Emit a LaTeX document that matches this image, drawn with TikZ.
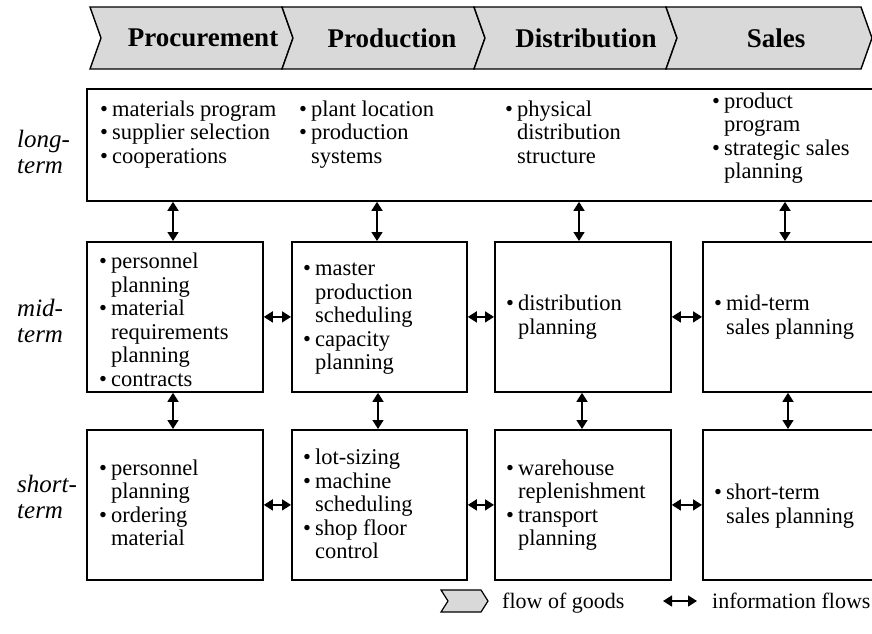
\documentclass[tikz,border=0pt]{standalone}
\usepackage{fontspec}
\setmainfont{Liberation Serif}
\usetikzlibrary{arrows.meta}
\definecolor{stagegray}{RGB}{217,217,217}

% bullet list set as a two-column tabular: bullet | text (continuation lines leave the bullet empty)
\newenvironment{blist}{\begin{tabular}{@{}l@{\hspace{4pt}}l@{}}}{\end{tabular}}
\newcommand\bi{\textbullet&}

\begin{document}
\begin{tikzpicture}[x=1pt,y=-1pt,
  stage/.style={fill=stagegray,draw=black,line width=1.4pt,line join=miter},
  stagetext/.style={inner sep=0pt,font=\fontsize{27}{30}\selectfont\bfseries},
  planbox/.style={draw=black,line width=1.8pt,inner sep=0pt,anchor=north west},
  items/.style={inner sep=0pt,anchor=west,font=\fontsize{22.5}{23.5}\selectfont},
  horizon/.style={inner sep=0pt,anchor=west,align=left,font=\fontsize{25}{25.5}\selectfont\itshape},
  legendtext/.style={inner sep=0pt,anchor=base west,font=\fontsize{22}{23.5}\selectfont},
  info/.style={line width=1.5pt,{Triangle[width=11pt,length=9pt]}-{Triangle[width=11pt,length=9pt]}},
]
\useasboundingbox (0,0) rectangle (872,633);
\fill[white] (0,0) rectangle (872,633);
\clip (0,0) rectangle (872,633);

% ---- supply chain stages (flow of goods) ----
\draw[stage] (90,7) -- (282,7) -- (293,38) -- (282,69) -- (90,69) -- (101,38) -- cycle;
\draw[stage] (282,7) -- (474,7) -- (485,38) -- (474,69) -- (282,69) -- (293,38) -- cycle;
\draw[stage] (474,7) -- (666,7) -- (677,38) -- (666,69) -- (474,69) -- (485,38) -- cycle;
\draw[stage] (666,7) -- (861,7) -- (872,38) -- (861,69) -- (666,69) -- (677,38) -- cycle;
\node[stagetext] (sproc) at (203,38) {Procurement};
\node[stagetext] (sprod) at (392,38) {Production};
\node[stagetext] (sdist) at (586,38) {Distribution};
\node[stagetext] (ssale) at (776,38) {Sales};

% ---- planning horizons ----
\node[horizon] (hlong)  at (17,152) {long-\\term};
\node[horizon] (hmid)   at (17,321) {mid-\\term};
\node[horizon] (hshort) at (17,497) {short-\\term};

% ---- long-term level ----
\node[planbox,minimum width=800pt,minimum height=112pt] (lt) at (86,88) {};
\node[items] (l1) at (100,135) {\begin{blist}\bi materials program\\ \bi supplier selection\\ \bi cooperations\end{blist}};
\node[items] (l2) at (299,135) {\begin{blist}\bi plant location\\ \bi production\\ & systems\end{blist}};
\node[items] (l3) at (505,135) {\begin{blist}\bi physical\\ & distribution\\ & structure\end{blist}};
\node[items] (l4) at (712,139) {\begin{blist}\bi product\\ & program\\ \bi strategic sales\\ & planning\end{blist}};

% ---- mid-term level ----
\node[planbox,minimum width=176pt,minimum height=150pt] (m1) at (86,241) {};
\node[planbox,minimum width=175pt,minimum height=150pt] (m2) at (291,241) {};
\node[planbox,minimum width=176pt,minimum height=150pt] (m3) at (494,241) {};
\node[planbox,minimum width=176pt,minimum height=150pt] (m4) at (702,241) {};
\node[items] (mt1) at (99,323) {\begin{blist}\bi personnel\\ & planning\\ \bi material\\ & requirements\\ & planning\\ \bi contracts\end{blist}};
\node[items] (mt2) at (303,318) {\begin{blist}\bi master\\ & production\\ & scheduling\\ \bi capacity\\ & planning\end{blist}};
\node[items] (mt3) at (506,318) {\begin{blist}\bi distribution\\ & planning\end{blist}};
\node[items] (mt4) at (714,318) {\begin{blist}\bi mid-term\\ & sales planning\end{blist}};

% ---- short-term level ----
\node[planbox,minimum width=176pt,minimum height=150pt] (s1) at (86,429) {};
\node[planbox,minimum width=175pt,minimum height=150pt] (s2) at (291,429) {};
\node[planbox,minimum width=176pt,minimum height=150pt] (s3) at (494,429) {};
\node[planbox,minimum width=176pt,minimum height=150pt] (s4) at (702,429) {};
\node[items] (st1) at (99,506) {\begin{blist}\bi personnel\\ & planning\\ \bi ordering\\ & material\end{blist}};
\node[items] (st2) at (303,507) {\begin{blist}\bi lot-sizing\\ \bi machine\\ & scheduling\\ \bi shop floor\\ & control\end{blist}};
\node[items] (st3) at (506,506) {\begin{blist}\bi warehouse\\ & replenishment\\ \bi transport\\ & planning\end{blist}};
\node[items] (st4) at (714,507) {\begin{blist}\bi short-term\\ & sales planning\end{blist}};

% ---- information flows between levels ----
\coordinate (v1) at (173,0);
\coordinate (v2) at (377,0);
\coordinate (v3) at (579,0);
\coordinate (v4) at (785,0);
\coordinate (w1) at (173,0);
\coordinate (w2) at (378,0);
\coordinate (w3) at (582,0);
\coordinate (w4) at (788,0);
\draw[info] (lt.south -| v1) -- (m1.north -| v1);
\draw[info] (lt.south -| v2) -- (m2.north -| v2);
\draw[info] (lt.south -| v3) -- (m3.north -| v3);
\draw[info] (lt.south -| v4) -- (m4.north -| v4);
\draw[info] (m1.south -| w1) -- (s1.north -| w1);
\draw[info] (m2.south -| w2) -- (s2.north -| w2);
\draw[info] (m3.south -| w3) -- (s3.north -| w3);
\draw[info] (m4.south -| w4) -- (s4.north -| w4);

% ---- information flows between stages ----
\draw[info] (m1.east) -- (m2.west);
\draw[info] (m2.east) -- (m3.west);
\draw[info] (m3.east) -- (m4.west);
\draw[info] (s1.east) -- (s2.west);
\draw[info] (s2.east) -- (s3.west);
\draw[info] (s3.east) -- (s4.west);

% ---- legend ----
\draw[stage,line width=1.2pt] (441,590) -- (481,590) -- (488,601) -- (481,612) -- (441,612) -- (448,601) -- cycle;
\node[legendtext] (lgoods) at (502,608) {flow of goods};
\coordinate (la) at (663,601);
\coordinate (lb) at (697,601);
\draw[info] (la) -- (lb);
\node[legendtext] (linfo) at (712,608) {information flows};
\end{tikzpicture}
\end{document}
